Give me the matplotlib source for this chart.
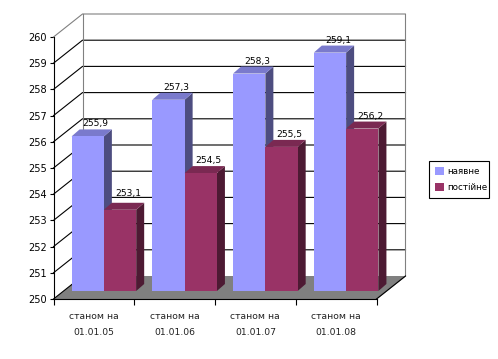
#!/usr/bin/env python3
import matplotlib
matplotlib.use('Agg')
import matplotlib.pyplot as plt
from matplotlib.patches import Polygon

categories = ['станом на\n01.01.05', 'станом на\n01.01.06', 'станом на\n01.01.07', 'станом на\n01.01.08']
naiavne = [255.9, 257.3, 258.3, 259.1]
postiine = [253.1, 254.5, 255.5, 256.2]
labels_fmt = '{:.1f}'
y_ticks = list(range(250, 261))

W, H = 498, 359
PX = 323 / 4   # pixels per category
PY = 262 / 10  # pixels per value unit

# 3d offsets, converted from pixels to data units
WALL_DX, WALL_DY = 29 / PX, 23 / PY
BAR_DX, BAR_DY = 10 / PX, 8 / PY
DEPTH_DX, DEPTH_DY = 8 / PX, 7 / PY
BAR_W = 0.4

colors = {
    'blue': '#9999FF', 'blue_side': '#4D4D80', 'blue_top': '#7A7ACC',
    'red': '#993366', 'red_side': '#4D1A33', 'red_top': '#7A2952',
    'floor': '#808080', 'wall': '#808080',
}

fig = plt.figure(figsize=(W / 100, H / 100), dpi=100, facecolor='white')
ax = fig.add_axes([53.5 / W, (H - 299) / H, 323 / W, 262 / H])
ax.set_xlim(0, 4)
ax.set_ylim(250, 260)
ax.patch.set_visible(False)
ax.spines['top'].set_visible(False)
ax.spines['right'].set_visible(False)
ax.spines['left'].set_linewidth(0.8)
ax.spines['bottom'].set_linewidth(0.8)
ax.spines['left'].set_zorder(6)
ax.spines['bottom'].set_zorder(6)

# floor
ax.add_patch(Polygon([(0, 250), (4, 250), (4 + WALL_DX, 250 + WALL_DY), (WALL_DX, 250 + WALL_DY)],
                     facecolor=colors['floor'], edgecolor='none', zorder=1, clip_on=False))

# back wall gridlines and the diagonals on the side wall
for v in y_ticks[1:-1]:
    ax.plot([0, WALL_DX, 4 + WALL_DX], [v, v + WALL_DY, v + WALL_DY],
            color='black', lw=0.8, zorder=2, clip_on=False)
ax.plot([0, WALL_DX, 4 + WALL_DX, 4 + WALL_DX, 4], [260, 260 + WALL_DY, 260 + WALL_DY, 250 + WALL_DY, 250],
        color=colors['wall'], lw=0.8, zorder=2, clip_on=False)
ax.plot([WALL_DX, WALL_DX], [250 + WALL_DY, 260 + WALL_DY], color=colors['wall'], lw=0.8, zorder=2, clip_on=False)
ax.plot([0, WALL_DX], [250, 250 + WALL_DY], color='black', lw=0.8, zorder=2, clip_on=False)
ax.plot([4, 4 + WALL_DX], [250, 250 + WALL_DY], color='black', lw=0.8, zorder=2, clip_on=False)


def draw_bar(left, value, front, side, top, z, nudge=1):
    x0 = left + BAR_DX
    x1 = x0 + BAR_W
    y0 = 250 + BAR_DY
    y1 = value + BAR_DY
    bar = ax.bar(x0, value - 250, width=BAR_W, bottom=y0, align='edge', color=front,
                 linewidth=0, zorder=z + 0.2, clip_on=False)
    ax.add_patch(Polygon([(x1, y0), (x1 + DEPTH_DX, y0 + DEPTH_DY), (x1 + DEPTH_DX, y1 + DEPTH_DY), (x1, y1)],
                         facecolor=side, edgecolor='none', zorder=z, clip_on=False))
    ax.add_patch(Polygon([(x0, y1), (x1, y1), (x1 + DEPTH_DX, y1 + DEPTH_DY), (x0 + DEPTH_DX, y1 + DEPTH_DY)],
                         facecolor=top, edgecolor='none', zorder=z, clip_on=False))
    ax.annotate(labels_fmt.format(value).replace('.', ','),
                (x0 + BAR_W / 2 + DEPTH_DX, y1 + DEPTH_DY), xytext=(0, nudge), textcoords='offset pixels',
                ha='center', va='bottom', fontsize=6.6, color='black', zorder=10,
                annotation_clip=False)
    return bar


for i in range(len(categories)):
    z = 3 + i
    blue_bar = draw_bar(i + 0.1, naiavne[i], colors['blue'], colors['blue_side'], colors['blue_top'], z)
    # the first red label sits a little higher in the original
    red_bar = draw_bar(i + 0.5, postiine[i], colors['red'], colors['red_side'], colors['red_top'], z + 0.4,
                       nudge=5 if i == 0 else 1)

# axis ticks and labels
ax.set_yticks(y_ticks)
ax.tick_params(axis='y', length=3, width=0.8, pad=2, labelsize=7)
ax.set_xticks(range(5))
ax.set_xticklabels([])
ax.tick_params(axis='x', length=4, width=0.8)
for i, cat in enumerate(categories):
    ax.annotate(cat, (i + 0.5, 250), xytext=(0, -13), textcoords='offset pixels',
                ha='center', va='top', fontsize=6.7, color='#222222', linespacing=1.95,
                annotation_clip=False)

leg = fig.legend([blue_bar, red_bar], ['наявне', 'постійне'], loc='lower left',
                 bbox_to_anchor=(429 / W, (H - 198) / H, 60 / W, 38 / H), mode='expand',
                 borderaxespad=0, fontsize=6.3, fancybox=False, framealpha=1, edgecolor='black',
                 handlelength=1.05, handleheight=1.05, handletextpad=0.35, labelspacing=0.85,
                 borderpad=0.65)
leg.get_frame().set_linewidth(0.8)

fig.savefig('out.png', dpi=100, facecolor='white')
plt.close(fig)
